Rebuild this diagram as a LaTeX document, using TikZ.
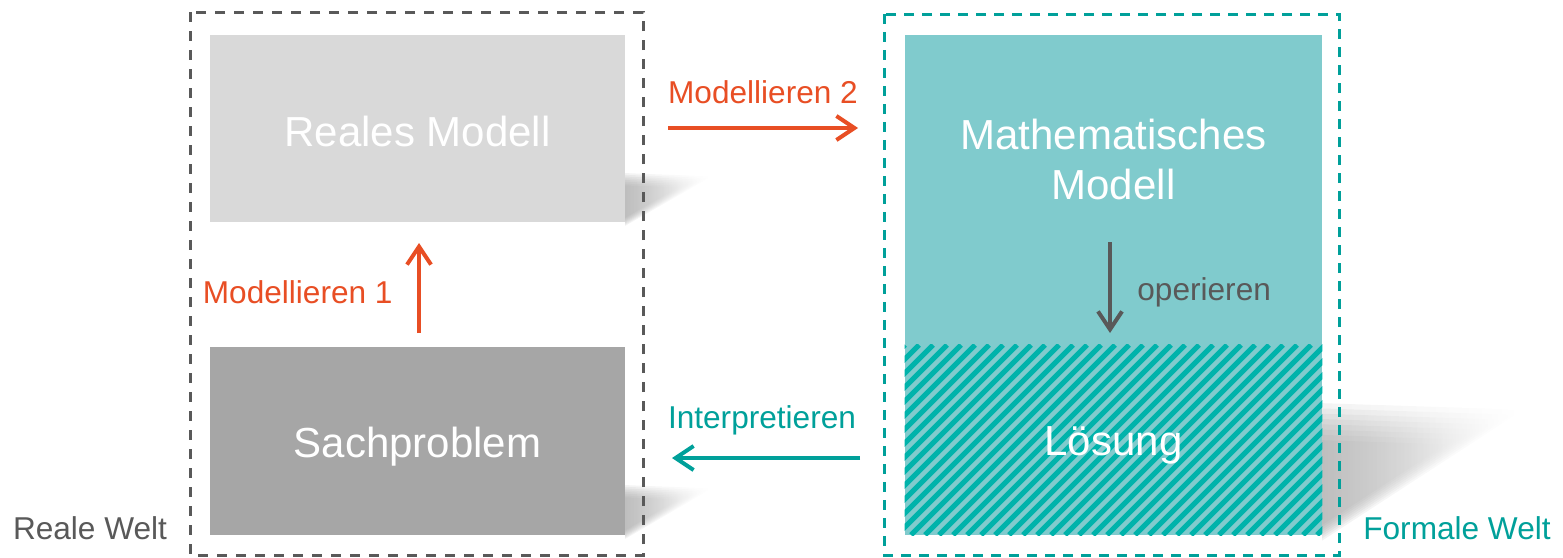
\documentclass[tikz,border=0pt]{standalone}
\usepackage{fontspec}
\setmainfont{Liberation Sans}
\usetikzlibrary{arrows.meta, fadings}

\definecolor{lightgray}{HTML}{D9D9D9}
\definecolor{midgray}{HTML}{A6A6A6}
\definecolor{darkgray}{HTML}{595959}
\definecolor{lightteal}{HTML}{80CBCD}
\definecolor{stripeteal}{HTML}{00B3AB}
\definecolor{teal}{HTML}{00A09A}
\definecolor{orangered}{HTML}{E84E24}
\definecolor{shadowgray}{HTML}{9A9A9A}

\tikzset{
  box/.style={inner sep=0pt, minimum width=207.5pt},
  bigtext/.style={inner sep=0pt, text=white, font=\fontsize{21}{25}\selectfont, align=center, anchor=base},
  smalltext/.style={inner sep=0pt, font=\fontsize{15.8}{19}\selectfont},
  arr/.style={line width=2pt, -{Straight Barb[length=9pt, width=12pt]}},
  stripe/.style={stripeteal, line width=2.6pt},
  softshadow/.style={shadowgray, fill opacity=0.12, path fading=east},
}

\begin{document}
\begin{tikzpicture}[x=0.5pt, y=-0.5pt]
		\useasboundingbox (0,0) rectangle (1563,557);
		%%%%%%%%%%%%% shadows
		\foreach \k [evaluate=\k as \f using 1.1-0.06*\k] in {0,...,7} {
			\fill[softshadow, scale around={\f:(625,205)}] (625,176) -- (704,179) -- (625,224) -- cycle;
			\fill[softshadow, scale around={\f:(625,517)}] (625,488) -- (704,491) -- (625,537) -- cycle;
			\fill[softshadow, scale around={\f:(1322,500)}] (1322,412) -- (1505,418) -- (1322,537) -- cycle;
		}
		%%%%%%%%%%%%% boxes
		\node[box, fill=lightgray, minimum height=93.5pt] (rm) at (417.5,128.5) {};
		\node[box, fill=midgray, minimum height=94pt] (sp) at (417.5,441) {};
		\node[box, fill=lightteal, minimum width=208.5pt, minimum height=155pt] (mm) at (1113.5,190) {};
		\node[box, fill=lightteal, minimum width=208.5pt, minimum height=95pt] (ls) at (1113.5,440) {};
		\begin{scope}
			\clip (ls.south west) rectangle (ls.north east);
			\foreach \i in {0,...,44}
				\draw[stripe] (715+14*\i,535) -- ++(190,-190);
		\end{scope}
		%%%%%%%%%%%%% box texts
		\node[bigtext] (rmtext) at (417.5,146) {Reales Modell};
		\node[bigtext] (sptext) at (417.5,457) {Sachproblem};
		\node[bigtext] (mmtext) at (1113.5,199) {Mathematisches\\Modell};
		\node[bigtext] (lstext) at (1113.5,455) {Lösung};
		%%%%%%%%%%%%% frames
		\draw[darkgray, line width=1.5pt, dash pattern=on 5pt off 4.5pt] (190,12) rectangle (643,555);
		\draw[teal, line width=1.5pt, dash pattern=on 5pt off 4pt] (884,14) rectangle (1339,555);
		%%%%%%%%%%%%% labels
		\node[smalltext, text=orangered] (m2) at (763,92) {Modellieren 2};
		\node[smalltext, text=orangered, anchor=east] (m1) at (393,292) {Modellieren 1};
		\node[smalltext, text=darkgray, anchor=west] (op) at (1137,292) {operieren};
		\node[smalltext, text=teal] (ip) at (762,420) {Interpretieren};
		\node[smalltext, text=darkgray] (rw) at (90,528) {Reale Welt};
		\node[smalltext, text=teal] (fw) at (1457,528) {Formale Welt};
		%%%%%%%%%%%%% arrows
		\coordinate (m2a) at (668,128); \coordinate (m2b) at (858,128);
		\coordinate (m1a) at (419,333); \coordinate (m1b) at (419,243);
		\coordinate (opa) at (1110,242); \coordinate (opb) at (1110,333);
		\coordinate (ipa) at (860,458); \coordinate (ipb) at (672,458);
		\draw[arr, orangered] (m2a) to (m2b);
		\draw[arr, orangered] (m1a) to (m1b);
		\draw[arr, darkgray] (opa) to (opb);
		\draw[arr, teal] (ipa) to (ipb);
\end{tikzpicture}
\end{document}
